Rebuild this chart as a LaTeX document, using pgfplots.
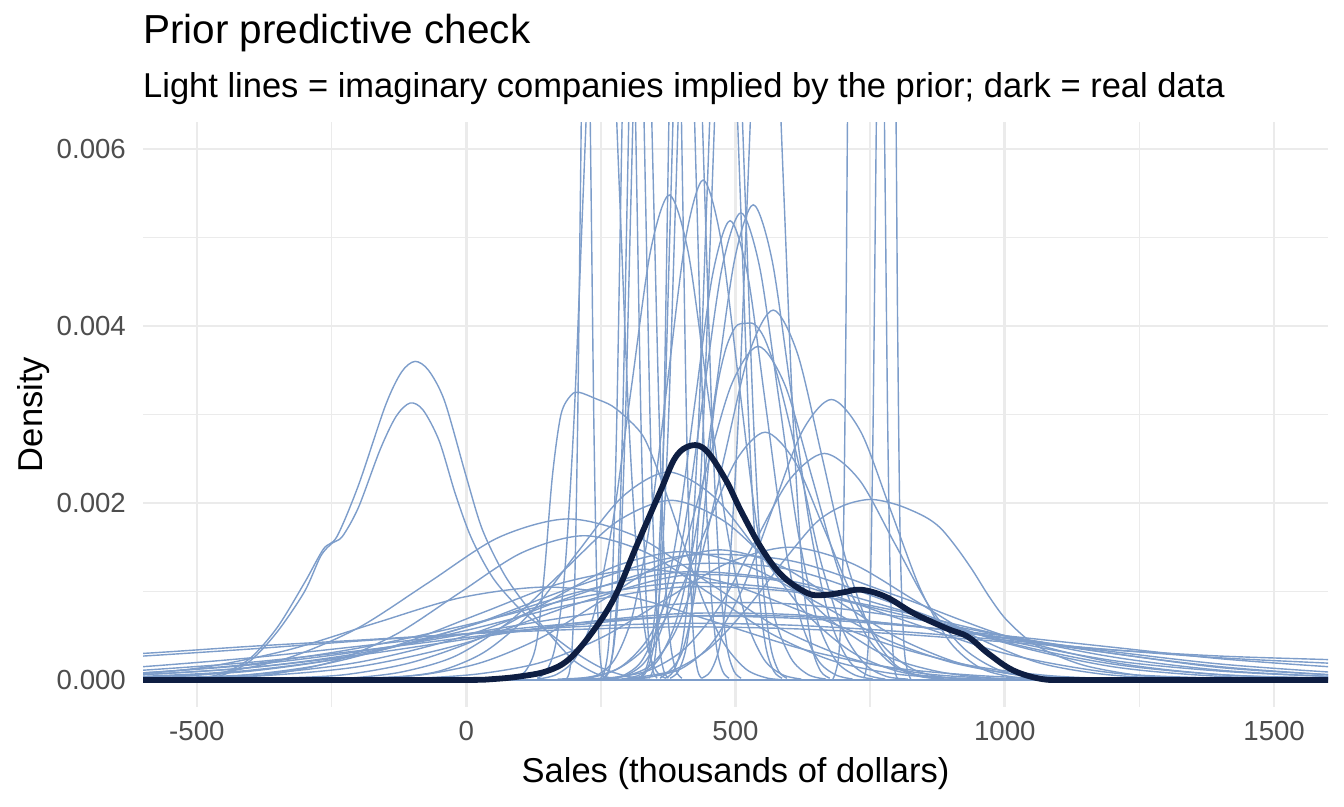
\documentclass[border=0pt]{standalone}
\usepackage{fontspec}
\setmainfont{Liberation Sans}
\usepackage{pgfplots}
\usepackage{pgfplotstable}
\pgfplotsset{compat=1.18}
\definecolor{lightblue}{RGB}{125,157,202}
\definecolor{darknavy}{RGB}{14,30,66}
\definecolor{gridgray}{RGB}{235,235,235}
\definecolor{ticktext}{RGB}{77,77,77}
\tikzset{light/.style={draw=lightblue, line width=1.4pt, smooth, tension=0.5}}

% narrow prior draws (spikes): shared density column, one x column per draw
\pgfplotstableread{
y s1 s2 s3 s4 s5 s6 s7 s8 s9 s10 s11 s13
0.02 187 132 249.5 256.5 253.5 339 320 321.5 369.5 378.5 437 737.5
0.10 192 149 257 265 264 346 332 335 385 394 454 742
0.40 197 166 264.5 273.5 274.5 353 344 348.5 400.5 409.5 471 746.5
1.22 202 183 272 282 285 360 356 362 416 425 488 751
2.92 207 200 279.5 290.5 295.5 367 368 375.5 431.5 440.5 505 755.5
5.46 212 217 287 299 306 374 380 389 447 456 522 760
7.94 217 234 294.5 307.5 316.5 381 392 402.5 462.5 471.5 539 764.5
9.00 222 251 302 316 327 388 404 416 478 487 556 769
7.94 227 268 309.5 324.5 337.5 395 416 429.5 493.5 502.5 573 773.5
5.46 232 285 317 333 348 402 428 443 509 518 590 778
2.92 237 302 324.5 341.5 358.5 409 440 456.5 524.5 533.5 607 782.5
1.22 242 319 332 350 369 416 452 470 540 549 624 787
0.40 247 336 339.5 358.5 379.5 423 464 483.5 555.5 564.5 641 791.5
0.10 252 353 347 367 390 430 476 497 571 580 658 796
0.02 257 370 354.5 375.5 400.5 437 488 510.5 586.5 595.5 675 800.5
}\spikes

% wide prior draws
\pgfplotstableread{
x A1 A2 A3 A4 A5 A6 A7 A8 A9 A10 A11 A12
-700 0.28 0.24 0.08 0.06 0.04 0.02 0.01 0.12 0.04 0.01 0.05 0.00
-600 0.30 0.27 0.11 0.08 0.06 0.04 0.02 0.15 0.06 0.03 0.08 0.01
-400 0.38 0.35 0.20 0.17 0.14 0.11 0.06 0.25 0.14 0.10 0.18 0.04
-200 0.45 0.44 0.33 0.32 0.30 0.28 0.20 0.38 0.28 0.28 0.36 0.15
0 0.52 0.52 0.48 0.52 0.56 0.60 0.50 0.52 0.46 0.60 0.62 0.42
200 0.57 0.60 0.62 0.72 0.86 0.98 0.95 0.64 0.64 1.05 0.92 0.85
400 0.60 0.64 0.72 0.86 1.05 1.22 1.30 0.72 0.75 1.40 1.10 1.18
600 0.58 0.62 0.72 0.86 1.00 1.12 1.25 0.70 0.74 1.35 1.02 1.10
800 0.52 0.55 0.63 0.72 0.78 0.80 0.85 0.62 0.63 0.95 0.75 0.70
1000 0.43 0.45 0.48 0.50 0.50 0.43 0.42 0.50 0.47 0.50 0.45 0.30
1200 0.34 0.34 0.32 0.30 0.26 0.18 0.15 0.37 0.30 0.20 0.22 0.08
1400 0.27 0.25 0.18 0.15 0.11 0.06 0.04 0.24 0.14 0.06 0.10 0.02
1600 0.23 0.19 0.09 0.06 0.04 0.02 0.01 0.15 0.06 0.02 0.04 0.00
1700 0.21 0.16 0.06 0.04 0.02 0.01 0.00 0.12 0.04 0.01 0.03 0.00
}\wide

\begin{document}
\begin{tikzpicture}
\path[use as bounding box] (-143pt,-99.5pt) rectangle (1201pt,706.5pt);
\begin{axis}[
  at={(0pt,0pt)}, anchor=south west,
  scale only axis, width=1185pt, height=584pt,
  xmin=-600, xmax=1600, ymin=-0.3, ymax=6.3,
  axis line style={draw=none},
  tick style={draw=none},
  major tick length=0pt, minor tick length=0pt,
  xtick={-500,0,500,1000,1500}, xticklabels={-500,0,500,1000,1500},
  ytick={0,2,4,6}, yticklabels={0.000,0.002,0.004,0.006},
  minor xtick={-250,250,750,1250}, minor ytick={1,3,5},
  grid=both,
  major grid style={draw=gridgray, line width=2.7pt},
  minor grid style={draw=gridgray, line width=1.35pt},
  ticklabel style={font=\fontsize{27.6pt}{33pt}\selectfont, text=ticktext},
  xticklabel style={anchor=north, inner sep=0pt, yshift=-15pt},
  yticklabel style={anchor=east, inner sep=0pt, xshift=-17pt},
]
% zero tails of the narrow draws
\addplot[draw=lightblue, line width=1.4pt] coordinates {(-600,0)(1600,0)};
% wide draws
\addplot[light] table[x=x,y=A1]{\wide};
\addplot[light] table[x=x,y=A2]{\wide};
\addplot[light] table[x=x,y=A3]{\wide};
\addplot[light] table[x=x,y=A4]{\wide};
\addplot[light] table[x=x,y=A5]{\wide};
\addplot[light] table[x=x,y=A6]{\wide};
\addplot[light] table[x=x,y=A7]{\wide};
\addplot[light] table[x=x,y=A8]{\wide};
\addplot[light] table[x=x,y=A9]{\wide};
\addplot[light] table[x=x,y=A10]{\wide};
\addplot[light] table[x=x,y=A11]{\wide};
\addplot[light] table[x=x,y=A12]{\wide};
% medium draws
\addplot[light] coordinates {(-720,0.004)(-590,0.02)(-460,0.08)(-330,0.25)(-200,0.59)(-70,1.10)(60,1.61)(190,1.82)(320,1.61)(450,1.10)(580,0.59)(710,0.25)(840,0.08)(970,0.02)(1100,0.004)};
\addplot[light] coordinates {(-586,0.004)(-471,0.02)(-356,0.07)(-241,0.22)(-126,0.53)(-11,0.99)(104,1.44)(219,1.63)(334,1.44)(449,0.99)(564,0.53)(679,0.22)(794,0.07)(909,0.02)(1024,0.004)};
\addplot[light] coordinates {(-220,0.005)(-135,0.03)(-50,0.10)(35,0.32)(120,0.76)(205,1.43)(290,2.07)(375,2.35)(460,2.07)(545,1.43)(630,0.76)(715,0.32)(800,0.10)(885,0.03)(970,0.005)};
\addplot[light] coordinates {(-320,0.004)(-220,0.02)(-120,0.09)(-20,0.27)(80,0.66)(180,1.23)(280,1.79)(380,2.03)(480,1.79)(580,1.23)(680,0.66)(780,0.27)(880,0.09)(980,0.02)(1080,0.004)};
\addplot[light] coordinates {(-475,0.003)(-350,0.02)(-225,0.06)(-100,0.20)(25,0.47)(150,0.88)(275,1.28)(400,1.45)(525,1.28)(650,0.88)(775,0.47)(900,0.20)(1025,0.06)(1150,0.02)(1275,0.003)};
\addplot[light] coordinates {(-720,0.003)(-570,0.01)(-420,0.05)(-270,0.17)(-120,0.41)(30,0.76)(180,1.10)(330,1.25)(480,1.10)(630,0.76)(780,0.41)(930,0.17)(1080,0.05)(1230,0.01)(1380,0.003)};
\addplot[light] coordinates {(-300,0.003)(-190,0.02)(-80,0.06)(30,0.20)(140,0.48)(250,0.89)(360,1.30)(470,1.47)(580,1.30)(690,0.89)(800,0.48)(910,0.20)(1020,0.06)(1130,0.02)(1240,0.003)};
\addplot[light] coordinates {(-970,0.002)(-810,0.01)(-650,0.05)(-490,0.14)(-330,0.34)(-170,0.64)(-10,0.93)(150,1.05)(310,0.93)(470,0.64)(630,0.34)(790,0.14)(950,0.05)(1110,0.01)(1270,0.002)};
\addplot[light] coordinates {(-205,0.003)(-90,0.02)(25,0.07)(140,0.20)(255,0.49)(370,0.91)(485,1.32)(600,1.50)(715,1.32)(830,0.91)(945,0.49)(1060,0.20)(1175,0.07)(1290,0.02)(1405,0.003)};
% two draws centred below zero
\addplot[light] coordinates {(-600,0)(-500,0.02)(-450,0.08)(-400,0.25)(-350,0.6)(-300,1.1)(-265,1.48)(-240,1.62)(-200,2.2)(-150,3.1)(-120,3.48)(-95,3.6)(-70,3.5)(-40,3.15)(0,2.3)(30,1.7)(70,1.2)(110,0.85)(150,0.55)(200,0.22)(250,0.05)(300,0.0)};
\addplot[light] coordinates {(-600,0)(-500,0.01)(-450,0.06)(-400,0.22)(-350,0.55)(-300,1.0)(-270,1.4)(-248,1.55)(-230,1.62)(-200,1.95)(-160,2.6)(-130,2.98)(-104,3.13)(-80,3.05)(-50,2.7)(-20,2.1)(10,1.6)(50,1.15)(100,0.8)(150,0.55)(200,0.32)(250,0.14)(300,0.04)(350,0.0)};
% skewed draw near 200
\addplot[light] coordinates {(80,0.0)(110,0.1)(130,0.4)(145,1.2)(160,2.3)(176,3.0)(195,3.22)(210,3.25)(240,3.18)(270,3.1)(300,2.95)(330,2.74)(360,2.3)(400,1.6)(440,0.9)(480,0.4)(520,0.12)(560,0.02)(600,0.0)};
% tall draws with visible peaks
\addplot[light] coordinates {(132,0.01)(167,0.06)(202,0.24)(237,0.74)(272,1.78)(307,3.32)(342,4.84)(377,5.48)(412,4.84)(447,3.32)(482,1.78)(517,0.74)(552,0.24)(587,0.06)(622,0.01)};
\addplot[light] coordinates {(212.5,0.01)(245,0.06)(277.5,0.25)(310,0.76)(342.5,1.83)(375,3.43)(407.5,4.99)(440,5.65)(472.5,4.99)(505,3.43)(537.5,1.83)(570,0.76)(602.5,0.25)(635,0.06)(667.5,0.01)};
\addplot[light] coordinates {(262.5,0.01)(295,0.06)(327.5,0.23)(360,0.70)(392.5,1.69)(425,3.15)(457.5,4.58)(490,5.19)(522.5,4.58)(555,3.15)(587.5,1.69)(620,0.70)(652.5,0.23)(685,0.06)(717.5,0.01)};
\addplot[light] coordinates {(265,0.01)(300,0.06)(335,0.23)(370,0.71)(405,1.71)(440,3.20)(475,4.66)(510,5.28)(545,4.66)(580,3.20)(615,1.71)(650,0.71)(685,0.23)(720,0.06)(755,0.01)};
\addplot[light] coordinates {(288,0.01)(323,0.06)(358,0.24)(393,0.73)(428,1.74)(463,3.26)(498,4.74)(533,5.37)(568,4.74)(603,3.26)(638,1.74)(673,0.73)(708,0.24)(743,0.06)(778,0.01)};
\addplot[light] coordinates {(255,0.01)(300,0.05)(345,0.18)(390,0.57)(435,1.36)(480,2.54)(525,3.69)(570,4.18)(615,3.69)(660,2.54)(705,1.36)(750,0.57)(795,0.18)(840,0.05)(885,0.01)};
\addplot[light] coordinates {(360,0.02)(400,0.3)(430,1.2)(460,3.05)(480,3.7)(500,3.99)(518,4.03)(535,4.02)(553,3.87)(575,3.5)(600,2.9)(630,2.1)(660,1.3)(700,0.55)(740,0.18)(780,0.04)(820,0.01)};
\addplot[light] coordinates {(192,0.01)(242,0.04)(292,0.17)(342,0.51)(392,1.22)(442,2.29)(492,3.33)(542,3.77)(592,3.33)(642,2.29)(692,1.22)(742,0.51)(792,0.17)(842,0.04)(892,0.01)};
\addplot[light] coordinates {(293,0.01)(348,0.04)(403,0.14)(458,0.43)(513,1.03)(568,1.92)(623,2.80)(678,3.17)(733,2.80)(788,1.92)(843,1.03)(898,0.43)(953,0.14)(1008,0.04)(1063,0.01)};
\addplot[light] coordinates {(170,0.01)(225,0.03)(280,0.12)(335,0.38)(390,0.91)(445,1.70)(500,2.47)(555,2.80)(610,2.47)(665,1.70)(720,0.91)(775,0.38)(830,0.12)(885,0.03)(940,0.01)};
\addplot[light] coordinates {(210,0.01)(275,0.03)(340,0.11)(405,0.35)(470,0.83)(535,1.55)(600,2.26)(665,2.56)(730,2.26)(795,1.55)(860,0.83)(925,0.35)(990,0.11)(1055,0.03)(1120,0.01)};
\addplot[light] coordinates {(300,0.02)(380,0.1)(450,0.35)(520,0.8)(590,1.35)(650,1.78)(700,1.97)(750,2.04)(800,1.98)(850,1.85)(880,1.72)(910,1.5)(940,1.24)(970,0.95)(1000,0.7)(1040,0.47)(1080,0.32)(1150,0.16)(1250,0.05)(1350,0.01)};
% narrow draws running off the top
\addplot[light] table[x=s1,y=y]{\spikes};
\addplot[light] table[x=s2,y=y]{\spikes};
\addplot[light] table[x=s3,y=y]{\spikes};
\addplot[light] table[x=s4,y=y]{\spikes};
\addplot[light] table[x=s5,y=y]{\spikes};
\addplot[light] table[x=s6,y=y]{\spikes};
\addplot[light] table[x=s7,y=y]{\spikes};
\addplot[light] table[x=s8,y=y]{\spikes};
\addplot[light] table[x=s9,y=y]{\spikes};
\addplot[light] table[x=s10,y=y]{\spikes};
\addplot[light] table[x=s11,y=y]{\spikes};
\addplot[light] table[x=s13,y=y]{\spikes};
\addplot[light] coordinates {(680,0)(692,0.3)(700,1.5)(705,4)(709,7)(716,9)(740,9.2)(765,9.2)(790,9)(797,7)(801,4)(806,1.5)(814,0.3)(826,0)};
% real data
\addplot[draw=darknavy, line width=5.8pt, smooth, tension=0.6] coordinates {(-600,0)(-400,0)(-200,0)(0,0)(50,0.01)(100,0.04)(150,0.10)(190,0.23)(233,0.53)(276,0.94)(318,1.54)(361,2.14)(389,2.52)(418,2.65)(446,2.59)(482,2.26)(511,1.90)(550,1.47)(588,1.17)(634,0.98)(664,0.96)(700,0.99)(733,1.02)(779,0.94)(832,0.75)(893,0.58)(931,0.49)(969,0.30)(1015,0.11)(1069,0.01)(1122,0)(1200,0)(1400,0)(1600,0)};
\end{axis}
\node[anchor=base west, inner sep=0pt, font=\fontsize{40.5pt}{48pt}\selectfont] at (0pt,662.5pt) {Prior predictive check};
\node[anchor=base west, inner sep=0pt, font=\fontsize{34.5pt}{41pt}\selectfont] at (0pt,609pt) {Light lines = imaginary companies implied by the prior; dark = real data};
\node[anchor=base, inner sep=0pt, font=\fontsize{34.5pt}{41pt}\selectfont] at (592.5pt,-75.5pt) {Sales (thousands of dollars)};
\node[rotate=90, anchor=base, inner sep=0pt, font=\fontsize{34.5pt}{41pt}\selectfont] at (-100pt,292pt) {Density};
\end{tikzpicture}
\end{document}
